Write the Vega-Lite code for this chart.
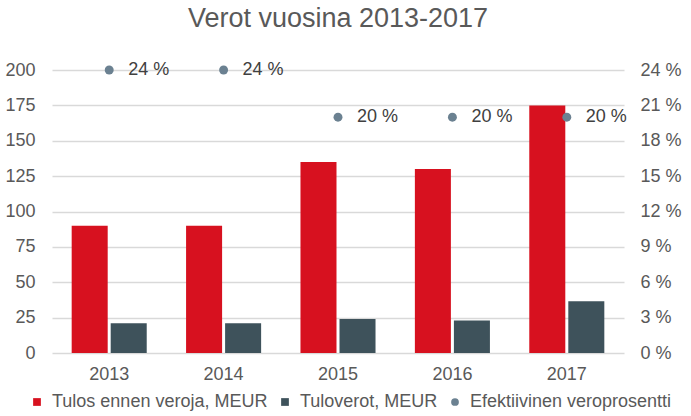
{
  "$schema": "https://vega.github.io/schema/vega-lite/v6.json",
  "autosize": {"type": "none"},
  "padding": {"left": 52, "top": 70, "right": 67, "bottom": 63},
  "width": 572,
  "height": 283,
  "background": "white",
  "config": {
    "view": {"stroke": null},
    "font": "Liberation Sans",
    "axis": {
      "labelFont": "Liberation Sans",
      "labelFontSize": 18,
      "labelColor": "#595959",
      "domain": false,
      "ticks": false,
      "tickSize": 0,
      "title": null,
      "gridColor": "#d9d9d9",
      "gridWidth": 1.5
    }
  },
  "title": {
    "text": "Verot vuosina 2013-2017",
    "font": "Liberation Sans",
    "fontSize": 27,
    "fontWeight": "normal",
    "color": "#595959",
    "anchor": "middle",
    "offset": 28
  },
  "datasets": {
    "bars": [
      {"year": "2013", "series": "Tulos ennen veroja, MEUR", "value": 90},
      {"year": "2013", "series": "Tuloverot, MEUR", "value": 21},
      {"year": "2014", "series": "Tulos ennen veroja, MEUR", "value": 90},
      {"year": "2014", "series": "Tuloverot, MEUR", "value": 21},
      {"year": "2015", "series": "Tulos ennen veroja, MEUR", "value": 135},
      {"year": "2015", "series": "Tuloverot, MEUR", "value": 24},
      {"year": "2016", "series": "Tulos ennen veroja, MEUR", "value": 130},
      {"year": "2016", "series": "Tuloverot, MEUR", "value": 23},
      {"year": "2017", "series": "Tulos ennen veroja, MEUR", "value": 175},
      {"year": "2017", "series": "Tuloverot, MEUR", "value": 36.5}
    ],
    "rate": [
      {"year": "2013", "series": "Efektiivinen veroprosentti", "rate": 24, "label": "24 %"},
      {"year": "2014", "series": "Efektiivinen veroprosentti", "rate": 24, "label": "24 %"},
      {"year": "2015", "series": "Efektiivinen veroprosentti", "rate": 20, "label": "20 %"},
      {"year": "2016", "series": "Efektiivinen veroprosentti", "rate": 20, "label": "20 %"},
      {"year": "2017", "series": "Efektiivinen veroprosentti", "rate": 20, "label": "20 %"}
    ]
  },
  "layer": [
    {
      "data": {"name": "bars"},
      "mark": {"type": "bar"},
      "encoding": {
        "x": {
          "field": "year",
          "type": "nominal",
          "scale": {"paddingInner": 0.344, "paddingOuter": 0.172},
          "axis": {"labelAngle": 0, "labelPadding": 12, "grid": false}
        },
        "xOffset": {
          "field": "series",
          "type": "nominal",
          "scale": {"domain": ["Tulos ennen veroja, MEUR", "Tuloverot, MEUR"], "paddingInner": 0.077, "paddingOuter": 0}
        },
        "y": {
          "field": "value",
          "type": "quantitative",
          "scale": {"domain": [0, 200]},
          "axis": {"values": [0, 25, 50, 75, 100, 125, 150, 175, 200], "labelPadding": 17, "grid": true}
        },
        "color": {
          "field": "series",
          "type": "nominal",
          "scale": {
            "domain": ["Tulos ennen veroja, MEUR", "Tuloverot, MEUR", "Efektiivinen veroprosentti"],
            "range": ["#d7111f", "#3e525b", "#6b8191"]
          },
          "legend": {
            "title": null,
            "orient": "none",
            "legendX": -24,
            "legendY": 323,
            "direction": "horizontal",
            "gridAlign": "none",
            "labelFont": "Liberation Sans",
            "labelFontSize": 18,
            "labelColor": "#595959",
            "labelLimit": 0,
            "symbolSize": 60,
            "symbolType": "square",
            "symbolStrokeWidth": 0,
            "columnPadding": 8,
            "labelOffset": 6,
            "encode": {
              "symbols": {
                "update": {
                  "shape": {"signal": "datum.value === 'Efektiivinen veroprosentti' ? 'circle' : 'square'"}
                }
              }
            }
          }
        }
      }
    },
    {
      "data": {"name": "rate"},
      "encoding": {
        "x": {"field": "year", "type": "nominal"},
        "y": {
          "field": "rate",
          "type": "quantitative",
          "scale": {"domain": [0, 24]},
          "axis": {
            "orient": "right",
            "values": [0, 3, 6, 9, 12, 15, 18, 21, 24],
            "labelExpr": "datum.value + ' %'",
            "labelPadding": 16,
            "grid": false
          }
        }
      },
      "layer": [
        {
          "mark": {"type": "point", "filled": true, "size": 80, "opacity": 1},
          "encoding": {
            "color": {"field": "series", "type": "nominal"}
          }
        },
        {
          "mark": {"type": "text", "align": "left", "baseline": "middle", "dx": 19, "fontSize": 18, "font": "Liberation Sans", "color": "#404040"},
          "encoding": {
            "text": {"field": "label", "type": "nominal"}
          }
        }
      ]
    }
  ],
  "resolve": {"scale": {"y": "independent"}}
}
